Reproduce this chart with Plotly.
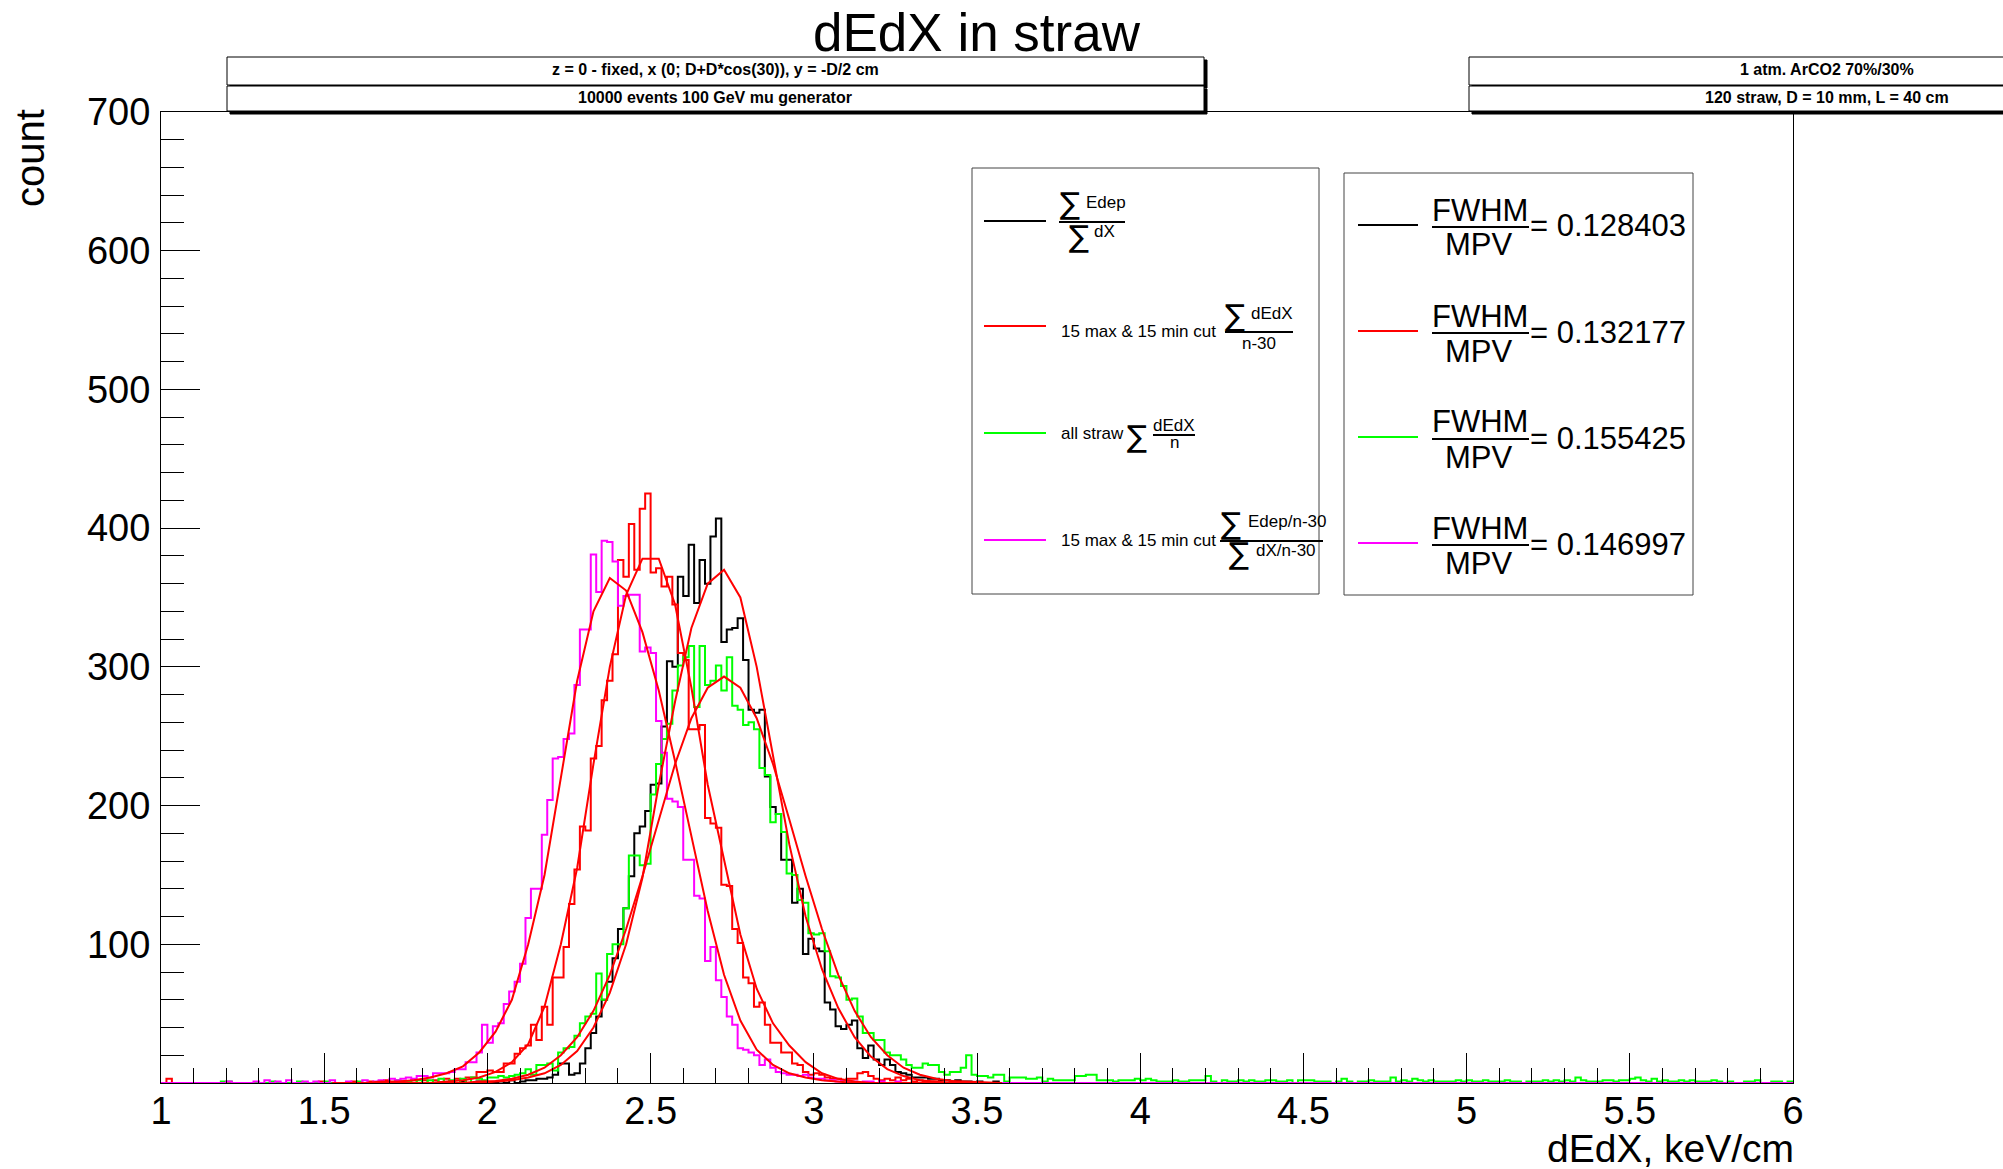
import plotly.graph_objects as go

# ---------------- data ----------------
BIN_LO = 1.0
BIN_W = 1.0 / 60.0
N_BINS = 300

# counts per bin (20 bins per row, rows start at x = 1, 1.333, 1.667, ...)
COUNT_BLACK = (
    [0] * 40 +
    [0, 0, 0, 0, 0, 0, 0, 0, 0, 0, 0, 0, 0, 0, 0, 1, 0, 0, 1, 0] +
    [0, 0, 1, 0, 2, 0, 1, 2, 2, 3, 3, 4, 6, 14, 14, 6, 7, 14, 25, 36] +
    [48, 60, 73, 90, 111, 126, 149, 180, 185, 196, 215, 216, 257, 304, 300, 365, 351, 388, 346, 377] +
    [360, 394, 407, 318, 327, 328, 335, 305, 269, 267, 269, 221, 199, 194, 161, 161, 130, 140, 93, 104] +
    [97, 95, 58, 53, 41, 39, 42, 45, 25, 18, 27, 17, 13, 17, 13, 8, 7, 6, 4, 4] +
    [4, 3, 3, 2, 2, 1, 2, 1, 1, 0, 1, 0, 0, 1, 0, 0, 0, 0, 0, 0] +
    [0] * 140
)
COUNT_RED = (
    [0, 3, 0, 0, 0, 0, 0, 0, 0, 0, 0, 0, 0, 0, 0, 0, 0, 0, 0, 0] +
    [0, 0, 0, 0, 0, 0, 0, 0, 0, 1, 0, 0, 0, 0, 0, 1, 0, 0, 1, 0] +
    [0, 2, 0, 0, 1, 0, 2, 0, 2, 0, 2, 0, 3, 0, 3, 0, 4, 4, 8, 8] +
    [9, 8, 8, 14, 14, 21, 25, 27, 42, 31, 55, 42, 76, 76, 98, 129, 154, 185, 182, 234] +
    [243, 276, 290, 309, 377, 365, 403, 370, 414, 425, 368, 371, 358, 365, 345, 310, 305, 255, 255, 258] +
    [191, 187, 184, 143, 142, 111, 101, 76, 72, 55, 58, 42, 29, 29, 22, 22, 14, 13, 8, 6] +
    [7, 6, 4, 3, 3, 2, 3, 3, 7, 8, 5, 3, 2, 3, 2, 4, 2, 3, 1, 2] +
    [1, 0, 1, 0, 0, 1, 0, 0, 0, 0, 0, 0, 0, 0, 0, 0, 0, 0, 0, 0] +
    [0] * 140
)
COUNT_GREEN = (
    [0, 0, 0, 0, 0, 0, 0, 0, 0, 0, 0, 1, 1, 0, 0, 0, 0, 0, 0, 0] +
    [1, 0, 0, 0, 0, 1, 0, 0, 0, 0, 1, 0, 0, 0, 0, 0, 1, 0, 0, 0] +
    [1, 0, 0, 2, 0, 1, 0, 2, 0, 2, 0, 3, 0, 2, 0, 3, 0, 4, 3, 2] +
    [4, 4, 5, 4, 5, 6, 7, 10, 6, 13, 13, 14, 9, 22, 25, 26, 34, 43, 48, 50] +
    [79, 60, 93, 100, 100, 126, 164, 164, 157, 158, 208, 230, 248, 259, 283, 301, 307, 315, 271, 315] +
    [287, 290, 301, 283, 307, 272, 269, 258, 260, 255, 227, 222, 188, 194, 181, 151, 150, 132, 130, 108] +
    [107, 108, 95, 77, 76, 70, 60, 61, 48, 36, 36, 31, 31, 22, 20, 20, 17, 13, 11, 11] +
    [14, 13, 13, 8, 6, 8, 8, 11, 20, 6, 5, 5, 4, 6, 6, 1, 4, 4, 4, 3] +
    [3, 4, 1, 3, 2, 2, 2, 2, 5, 5, 6, 6, 2, 2, 2, 1, 2, 2, 2, 3] +
    [2, 3, 2, 1, 1, 1, 2, 1, 1, 2, 2, 2, 5, 1, 0, 2, 1, 1, 2, 1] +
    [2, 1, 1, 2, 2, 1, 1, 2, 0, 2, 2, 2, 1, 1, 1, 0, 1, 3, 1, 0] +
    [1, 1, 2, 1, 1, 1, 4, 1, 2, 1, 3, 2, 1, 2, 1, 1, 1, 1, 2, 1] +
    [2, 1, 1, 2, 1, 1, 1, 2, 1, 1, 0, 1, 1, 1, 2, 1, 2, 1, 2, 1] +
    [4, 2, 1, 1, 1, 2, 2, 1, 2, 2, 3, 4, 2, 1, 3, 1, 2, 1, 1, 2] +
    [1, 2, 1, 1, 1, 2, 1, 0, 1, 0, 0, 1, 1, 2, 0, 0, 1, 1, 0, 1]
)
COUNT_MAGENTA = (
    [0, 0, 0, 0, 0, 0, 0, 0, 0, 0, 0, 0, 1, 0, 0, 0, 0, 1, 0, 2] +
    [0, 1, 0, 2, 0, 0, 1, 0, 1, 0, 0, 2, 0, 0, 1, 0, 0, 2, 0, 1] +
    [2, 0, 3, 2, 3, 4, 3, 5, 5, 4, 7, 7, 7, 8, 10, 10, 15, 15, 22, 42] +
    [29, 41, 43, 57, 66, 73, 86, 119, 140, 140, 179, 204, 234, 235, 248, 252, 287, 327, 327, 381] +
    [354, 391, 390, 376, 344, 351, 352, 352, 311, 314, 310, 261, 238, 205, 203, 199, 161, 161, 135, 133] +
    [88, 98, 74, 62, 48, 42, 25, 24, 22, 20, 13, 17, 11, 8, 7, 6, 6, 5, 6, 4] +
    [3, 3, 2, 2, 1, 2, 1, 1, 0, 1, 1, 0, 1, 0, 0, 1, 0, 0, 0, 0] +
    [0] * 160
)

# Gaussian fit curves, sampled every 0.05 starting at 1.525
FIT_X0 = 1.525
FIT_STEP = 0.05
FIT_BLACK = [0, 0, 0, 0, 0, 0, 0, 0, 0, 0, 1, 2, 4, 7, 13, 23, 40, 65, 100, 148,
             215, 275, 328, 360, 370, 350, 300, 235, 172, 120, 82, 54, 33, 19, 10, 5, 2, 1, 0, 0, 0, 0]
FIT_RED = [0, 0, 0, 0, 0, 0, 0, 1, 2, 4, 8, 15, 28, 55, 100, 155, 230, 300, 352, 378,
           378, 345, 285, 215, 160, 107, 68, 43, 27, 15, 7, 3, 1, 0, 0, 0, 0, 0, 0, 0, 0, 0]
FIT_GREEN = [0, 0, 0, 0, 0, 0, 0, 0, 0, 1, 1.5, 3, 6, 11, 20, 33, 52, 78, 111, 149,
             190, 230, 263, 285, 293, 285, 263, 230, 190, 149, 111, 78, 52, 33, 20, 11, 6, 3, 1.5, 1, 0, 0]
FIT_MAGENTA = [0, 0, 0, 1, 1, 2, 4, 7, 12, 22, 37, 60, 100, 150, 220, 290, 340, 364, 355, 325,
               283, 232, 178, 124, 78, 45, 24, 13, 7, 4, 2, 1, 0, 0, 0, 0, 0, 0, 0, 0, 0, 0]

RATIOS = ["0.128403", "0.132177", "0.155425", "0.146997"]
COLORS = ["#000000", "#ff0000", "#00ff00", "#ff00ff"]

X_TICK_VALS = [1, 1.5, 2, 2.5, 3, 3.5, 4, 4.5, 5, 5.5, 6]
Y_TICK_VALS = [0, 100, 200, 300, 400, 500, 600, 700]
Y_TICK_TEXT = ["", "100", "200", "300", "400", "500", "600", "700"]

# ---------------- layout geometry ----------------
W, H = 2003, 1169
L, R, T, B = 161, 1793, 112, 1083
FONT = "Liberation Sans, Arial, sans-serif"
SIGFONT = "DejaVu Sans, Liberation Sans, sans-serif"


def px(x):
    return (x - L) / (R - L)


def py(y):
    return (B - y) / (B - T)


fig = go.Figure()

edges = [BIN_LO + i * BIN_W for i in range(N_BINS + 1)]
for counts, col in zip([COUNT_BLACK, COUNT_RED, COUNT_GREEN, COUNT_MAGENTA], COLORS):
    assert len(counts) == N_BINS
    fig.add_trace(go.Scatter(x=edges, y=list(counts) + [counts[-1]], mode="lines",
                             line=dict(color=col, width=2, shape="hv"), hoverinfo="skip"))

for vals in [FIT_BLACK, FIT_RED, FIT_GREEN, FIT_MAGENTA]:
    xs = [FIT_X0 + k * FIT_STEP for k in range(len(vals))]
    fig.add_trace(go.Scatter(x=xs, y=vals, mode="lines",
                             line=dict(color="#ff0000", width=2), hoverinfo="skip"))

shapes = []
annotations = []


def rect(x0, y0, x1, y1, line="black", fill="white", lw=1):
    shapes.append(dict(type="rect", xref="paper", yref="paper", x0=px(x0), x1=px(x1),
                       y0=py(y1), y1=py(y0), line=dict(color=line, width=lw),
                       fillcolor=fill, layer="above"))


def hline(x0, x1, y, color="black", lw=1):
    shapes.append(dict(type="line", xref="paper", yref="paper", x0=px(x0), x1=px(x1),
                       y0=py(y), y1=py(y), line=dict(color=color, width=lw), layer="above"))


def text(x, y, s, size, anchor="center", family=FONT, angle=0):
    annotations.append(dict(x=px(x), y=py(y), xref="paper", yref="paper", text=s,
                            showarrow=False, xanchor=anchor, yanchor="middle",
                            font=dict(family=family, size=size, color="black"),
                            textangle=angle, borderpad=0))


# top info boxes (with ROOT-like shadows)
for (x0, x1) in [(227, 1204), (1469, 2200)]:
    for (y0, y1) in [(57, 85), (86, 111)]:
        rect(x0 + 3, y0 + 3, x1 + 3, y1 + 3, line="black", fill="black")
        rect(x0, y0, x1, y1)

text(715, 70, "<b>z = 0 - fixed, x (0; D+D*cos(30)), y = -D/2 cm</b>", 16)
text(715, 98, "<b>10000 events 100 GeV mu generator</b>", 16)
text(1827, 70, "<b>1 atm. ArCO2 70%/30%</b>", 16)
text(1827, 98, "<b>120 straw, D = 10 mm, L = 40 cm</b>", 16)

# title and axis titles
text(977, 32, "dEdX in straw", 53)
text(1795, 1148, "dEdX, keV/cm", 39, anchor="right")
text(30, 158, "count", 40, angle=-90)

# legend 1
rect(972, 168, 1319, 594, line="#444444")
leg_y = [221, 326, 433, 540]
for y, col in zip(leg_y, COLORS):
    hline(984, 1046, y, color=col, lw=2)

SIG = 30
# entry 1
text(1070, 204, "∑", SIG, family=SIGFONT)
text(1085, 203, "Edep", 17, anchor="left")
hline(1059, 1125, 222, lw=2)
text(1079, 236, "∑", SIG, family=SIGFONT)
text(1093, 231, "dX", 17, anchor="left")
# entry 2
text(1060, 331, "15 max &amp; 15 min cut", 17, anchor="left")
text(1235, 315, "∑", SIG, family=SIGFONT)
text(1250, 313, "dEdX", 17, anchor="left")
hline(1225, 1293, 332, lw=2)
text(1259, 343, "n-30", 17)
# entry 3
text(1060, 433, "all straw", 17, anchor="left")
text(1137, 436, "∑", SIG, family=SIGFONT)
text(1174, 425, "dEdX", 17)
hline(1153, 1195, 435, lw=2)
text(1174, 443, "n", 17)
# entry 4
text(1060, 540, "15 max &amp; 15 min cut", 17, anchor="left")
text(1231, 523, "∑", SIG, family=SIGFONT)
text(1247, 521, "Edep/n-30", 17, anchor="left")
hline(1220, 1323, 541, lw=2)
text(1239, 553, "∑", SIG, family=SIGFONT)
text(1255, 550, "dX/n-30", 17, anchor="left")

# legend 2
rect(1344, 173, 1693, 595, line="#444444")
for y, col, r in zip([225, 331, 437, 543], COLORS, RATIOS):
    hline(1358, 1418, y, color=col, lw=2)
    text(1480, y - 15, "FWHM", 31)
    hline(1432, 1529, y + 2, lw=2)
    text(1479, y + 20, "MPV", 31)
    text(1529, y + 1, "= " + r, 31, anchor="left")

fig.update_layout(
    width=W, height=H,
    margin=dict(l=L, r=W - R, t=T, b=H - B, pad=0),
    paper_bgcolor="white", plot_bgcolor="white",
    showlegend=False,
    font=dict(family=FONT, color="black"),
    shapes=shapes, annotations=annotations,
)
fig.update_xaxes(
    range=[1, 6], showline=True, linecolor="black", linewidth=1, mirror=True,
    ticks="inside", ticklen=30, tickwidth=1, tickcolor="black",
    tickmode="array", tickvals=X_TICK_VALS,
    showgrid=False, zeroline=False, tickfont=dict(size=38, family=FONT),
    ticklabelstandoff=-6,
    minor=dict(ticks="inside", ticklen=15, tickmode="linear", tick0=1, dtick=0.1,
               tickcolor="black", tickwidth=1, showgrid=False),
)
fig.update_yaxes(
    range=[0, 700], showline=True, linecolor="black", linewidth=1, mirror=True,
    ticks="inside", ticklen=39, tickwidth=1, tickcolor="black",
    tickmode="array", tickvals=Y_TICK_VALS, ticktext=Y_TICK_TEXT,
    showgrid=False, zeroline=False, tickfont=dict(size=38, family=FONT),
    ticklabelstandoff=2,
    minor=dict(ticks="inside", ticklen=23, tickmode="linear", tick0=0, dtick=20,
               tickcolor="black", tickwidth=1, showgrid=False),
)

fig.write_html("out.html")
